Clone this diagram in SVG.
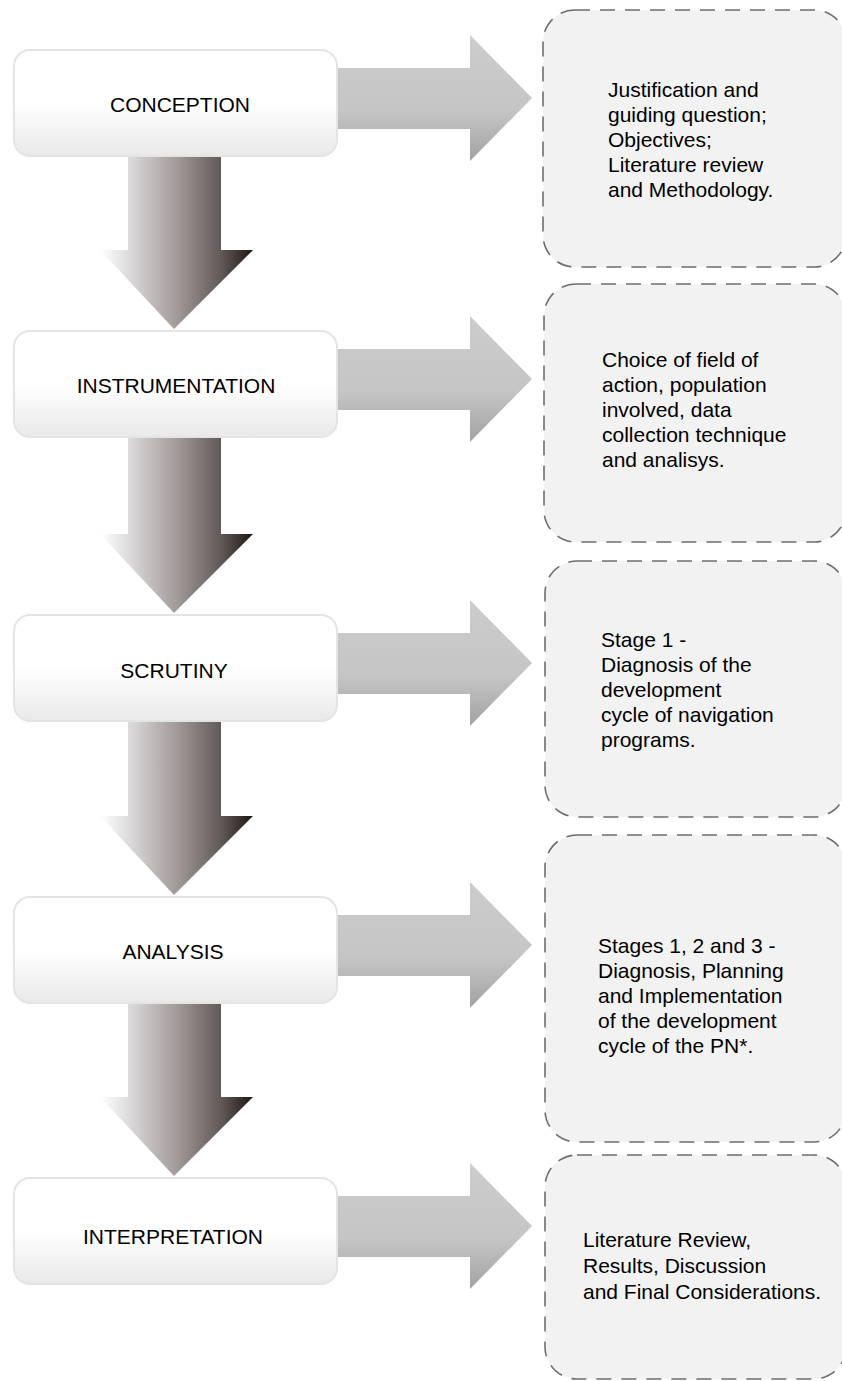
<svg xmlns="http://www.w3.org/2000/svg" width="842" height="1381" viewBox="0 0 842 1381">
<style>
.lbl{font-family:"Liberation Sans",Arial,sans-serif;font-size:21px;fill:#000;text-anchor:middle}
.txt{font-family:"Liberation Sans",Arial,sans-serif;font-size:21px;fill:#000}
.stage{fill:url(#boxGrad);stroke:#e4e4e4;stroke-width:2}
.note{fill:#f2f2f2;stroke:#6e6e6e;stroke-width:1.6;stroke-dasharray:15 10}
.down{fill:url(#downGrad)}
.right{fill:url(#rightGrad)}
</style>
<defs>
<linearGradient id="boxGrad" x1="0" y1="0" x2="0" y2="1">
<stop offset="0" stop-color="#ffffff"/>
<stop offset="0.5" stop-color="#ffffff"/>
<stop offset="1" stop-color="#e9e9e9"/>
</linearGradient>
<linearGradient id="downGrad" x1="0" y1="0" x2="1" y2="0">
<stop offset="0" stop-color="#ffffff"/>
<stop offset="0.18" stop-color="#dedddd"/>
<stop offset="0.5" stop-color="#a19b99"/>
<stop offset="0.8" stop-color="#5f5755"/>
<stop offset="1" stop-color="#1f1614"/>
</linearGradient>
<linearGradient id="rightGrad" x1="0" y1="0" x2="0" y2="1">
<stop offset="0" stop-color="#cccccc"/>
<stop offset="0.6" stop-color="#c5c5c5"/>
<stop offset="1" stop-color="#a2a2a2"/>
</linearGradient>
</defs>
<g id="connectors">
<polygon class="right" points="330,68 470,68 470,35 532,98 470,161 470,129 330,129"/>
<polygon class="right" points="330,349 470,349 470,316 532,379 470,442 470,410 330,410"/>
<polygon class="right" points="330,633 470,633 470,600 532,663 470,726 470,694 330,694"/>
<polygon class="right" points="330,915 470,915 470,882 532,945 470,1008 470,976 330,976"/>
<polygon class="right" points="330,1196 470,1196 470,1163 532,1226 470,1289 470,1257 330,1257"/>
<polygon class="down" points="128,156 221,156 221,250 253,250 174,329 100,250 128,250"/>
<polygon class="down" points="128,437 221,437 221,534 253,534 174,613 100,534 128,534"/>
<polygon class="down" points="128,721 221,721 221,816 253,816 174,895 100,816 128,816"/>
<polygon class="down" points="128,1003 221,1003 221,1097 253,1097 174,1176 100,1097 128,1097"/>
</g>
<g id="conception">
<rect class="stage" x="14" y="50" width="323" height="106" rx="16"/>
<text class="lbl" x="180" y="112">CONCEPTION</text>
</g>
<g id="instrumentation">
<rect class="stage" x="14" y="331" width="323" height="106" rx="16"/>
<text class="lbl" x="176" y="393">INSTRUMENTATION</text>
</g>
<g id="scrutiny">
<rect class="stage" x="14" y="615" width="323" height="106" rx="16"/>
<text class="lbl" x="174" y="678">SCRUTINY</text>
</g>
<g id="analysis">
<rect class="stage" x="14" y="897" width="323" height="106" rx="16"/>
<text class="lbl" x="173" y="959">ANALYSIS</text>
</g>
<g id="interpretation">
<rect class="stage" x="14" y="1178" width="323" height="106" rx="16"/>
<text class="lbl" x="173" y="1244">INTERPRETATION</text>
</g>
<g id="note-conception">
<rect class="note" x="543" y="10" width="303" height="257" rx="32"/>
<text class="txt" x="608" y="97">Justification and</text>
<text class="txt" x="608" y="122">guiding question;</text>
<text class="txt" x="608" y="147">Objectives;</text>
<text class="txt" x="608" y="172">Literature review</text>
<text class="txt" x="608" y="197">and Methodology.</text>
</g>
<g id="note-instrumentation">
<rect class="note" x="544" y="284" width="302" height="258" rx="32"/>
<text class="txt" x="602" y="367">Choice of field of</text>
<text class="txt" x="602" y="392">action, population</text>
<text class="txt" x="602" y="417">involved, data</text>
<text class="txt" x="602" y="442">collection technique</text>
<text class="txt" x="602" y="467">and analisys.</text>
</g>
<g id="note-scrutiny">
<rect class="note" x="545" y="561" width="301" height="256" rx="32"/>
<text class="txt" x="601" y="647">Stage 1 -</text>
<text class="txt" x="601" y="672">Diagnosis of the</text>
<text class="txt" x="601" y="697">development</text>
<text class="txt" x="601" y="722">cycle of navigation</text>
<text class="txt" x="601" y="747">programs.</text>
</g>
<g id="note-analysis">
<rect class="note" x="545" y="835" width="301" height="307" rx="32"/>
<text class="txt" x="598" y="953">Stages 1, 2 and 3 -</text>
<text class="txt" x="598" y="978">Diagnosis, Planning</text>
<text class="txt" x="598" y="1003">and Implementation</text>
<text class="txt" x="598" y="1028">of the development</text>
<text class="txt" x="598" y="1053">cycle of the PN*.</text>
</g>
<g id="note-interpretation">
<rect class="note" x="545" y="1155" width="301" height="224" rx="32"/>
<text class="txt" x="583" y="1247">Literature Review,</text>
<text class="txt" x="583" y="1273">Results, Discussion</text>
<text class="txt" x="583" y="1299">and Final Considerations.</text>
</g>
</svg>
